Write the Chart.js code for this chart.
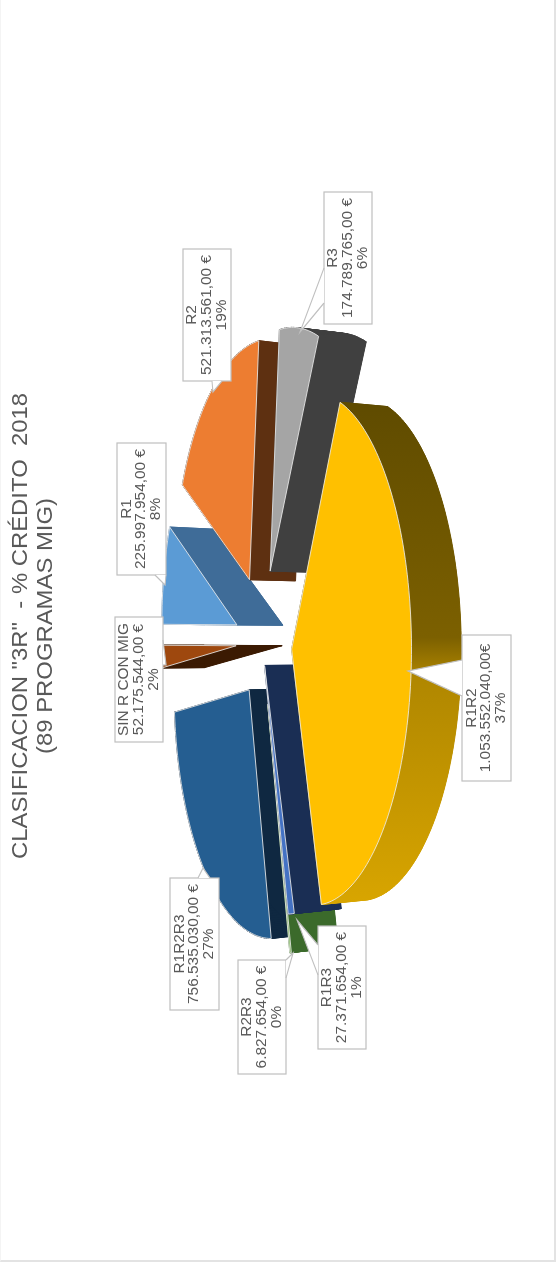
<!DOCTYPE html>
<html>
<head>
<meta charset="utf-8">
<style>
  html, body { margin: 0; padding: 0; background: #fff; overflow: hidden; }
  #frame { position: absolute; left: 0; top: 0; width: 553px; height: 1260px; border-left: 1px solid #f4f4f4; border-right: 2px solid #e3e3e3; border-bottom: 2px solid #e3e3e3; box-sizing: content-box; }
  /* the whole chart sits on its side in the reference */
  #chart { position: absolute; left: 0; top: 0; transform-origin: 0 0; transform: translateY(1268px) rotate(-90deg); }
</style>
<script src="https://cdn.jsdelivr.net/npm/chart.js@4/dist/chart.umd.min.js"></script>
</head>
<body>
<div id="frame"></div>
<canvas id="chart" width="1268" height="557"></canvas>
<script>
// Chart data
const categories = ['SIN R CON MIG', 'R1', 'R2', 'R3', 'R1R2', 'R1R3', 'R2R3', 'R1R2R3'];
const credits = [52175544, 225997954, 521313561, 174789765, 1053552040, 27371654, 6827654, 756535030];
const creditLabels = ['52.175.544,00 €', '225.997.954,00 €', '521.313.561,00 €', '174.789.765,00 €',
  '1.053.552.040,00€', '27.371.654,00 €', '6.827.654,00 €', '756.535.030,00 €'];
const percentLabels = ['2%', '8%', '19%', '6%', '37%', '1%', '0%', '27%'];
const titleLines = ['CLASIFICACION "3R"  - % CRÉDITO  2018', '(89 PROGRAMAS MIG)'];

// Slice styles
const topColors = ['#9E480E', '#5B9BD5', '#ED7D31', '#A5A5A5', '#FFC000', '#4472C4', '#70AD47', '#255E91'];
const sideColors = ['#3B1A02', '#3F6C98', '#5E3011', '#404040', null, '#1A2E54', '#3B6A2B', '#0F2841'];
const explosion = [30, 30, 30, 30, 30, 10, 26, 25]; // percent of radius, like Excel
const radiusScale = [1, 1, 0.97, 0.98, 1.03, 1, 1, 1];
const drawOrder = [0, 1, 2, 3, 7, 6, 5, 4]; // back to front

// 3D view settings
const view = { cu: 626, cv: 262, sizeU: 242, sizeV: 92.3, perspective: 0.23, depth: 46 };

// Callout boxes: left, top, width, height, then pointer tip and the two pointer base points
const callouts = [
  { box: [526, 115, 125, 48], tip: [603, 166], base: [[628, 163], [603, 163]] },
  { box: [693, 117, 132, 49], tip: [683, 165], base: [[693, 155], [693, 166]] },
  { box: [887, 183, 132, 48], tip: [876, 213], base: [[887, 212], [887, 222]] },
  { box: [944, 324, 132, 48], tip: [936, 300], base: [[1000, 324], [965, 324]] },
  { box: [487, 462, 146, 49], tip: [597, 408], base: [[608, 462], [572, 462]] },
  { box: [219, 318, 123, 48], tip: [348, 297], base: [[323, 318], [293, 318]] },
  { box: [194, 238, 114, 48], tip: [315, 293], base: [[308, 286], [290, 286]] },
  { box: [258, 170, 132, 49], tip: [400, 203], base: [[390, 198], [390, 210]] }
];

// Project a point of the flat pie (radius 1) to the tilted view
function project(x, y) {
  const w = 1 - view.perspective * y;
  return [view.sizeU * x / w, view.sizeV * y / w, w];
}

// Outline of one slice on the top face, from the arc element the library laid out
function sliceOutline(arc, scale) {
  const { startAngle, endAngle } = arc.getProps(['startAngle', 'endAngle'], true);
  const mid = (startAngle + endAngle) / 2;
  const e = arc.options.offset / 100;
  const apex = project(e * Math.cos(mid), e * Math.sin(mid));
  const tip = [view.cu + apex[0], view.cv + apex[1], 1];
  const points = [tip];
  const steps = Math.max(2, Math.ceil((endAngle - startAngle) * 40));
  for (let i = 0; i <= steps; i++) {
    const a = startAngle + (endAngle - startAngle) * i / steps;
    const p = project(Math.cos(a), Math.sin(a));
    points.push([tip[0] + p[0] * scale, tip[1] + p[1], p[2]]);
  }
  return points;
}

// t = 0 is the top face, t = 1 the bottom face, a little smaller and deeper at the front
function lower(p, t) {
  return [p[0] + (view.cu - p[0]) * 0.018 * t, p[1] + t * view.depth * Math.pow(1 / p[2], 0.3)];
}

function tracePolygon(ctx, points) {
  ctx.beginPath();
  points.forEach((p, i) => {
    if (i === 0) ctx.moveTo(p[0], p[1]); else ctx.lineTo(p[0], p[1]);
  });
  ctx.closePath();
}

function drawSlice(ctx, outline, side, top) {
  ctx.fillStyle = side;
  ctx.strokeStyle = side;
  ctx.lineWidth = 1;
  tracePolygon(ctx, outline.map((p) => lower(p, 1)));
  ctx.fill();
  outline.forEach((p, i) => {
    const next = outline[(i + 1) % outline.length];
    tracePolygon(ctx, [lower(p, 0), lower(next, 0), lower(next, 1), lower(p, 1)]);
    ctx.fill();
    ctx.stroke();
  });
  tracePolygon(ctx, outline);
  ctx.fillStyle = top;
  ctx.fill();
  ctx.strokeStyle = 'rgba(235,235,235,0.85)';
  ctx.stroke();
}

function drawCallout(ctx, callout, lines) {
  const [x, y, w, h] = callout.box;
  ctx.fillStyle = '#fff';
  ctx.strokeStyle = '#BFBFBF';
  ctx.lineWidth = 1.2;
  ctx.fillRect(x, y, w, h);
  ctx.strokeRect(x, y, w, h);
  ctx.beginPath();
  ctx.moveTo(callout.base[0][0], callout.base[0][1]);
  ctx.lineTo(callout.tip[0], callout.tip[1]);
  ctx.lineTo(callout.base[1][0], callout.base[1][1]);
  ctx.fill();
  ctx.stroke();
  ctx.fillStyle = '#595959';
  ctx.font = '14px "Liberation Sans"';
  ctx.textAlign = 'center';
  ctx.textBaseline = 'middle';
  lines.forEach((line, i) => {
    ctx.save();
    ctx.translate(x + w / 2, y + h / 2 + (i - 1) * 14.8);
    ctx.scale(1.1, 1);
    ctx.fillText(line, 0, 0);
    ctx.restore();
  });
}

function drawTitle(ctx) {
  ctx.fillStyle = '#595959';
  ctx.font = '21.5px "Liberation Sans"';
  ctx.textAlign = 'center';
  ctx.textBaseline = 'middle';
  titleLines.forEach((line, i) => {
    ctx.save();
    ctx.translate(642, 21 + i * 25);
    ctx.scale(1.11, 1);
    ctx.fillText(line, 0, 0);
    ctx.restore();
  });
}

// Paints the pie in 3D instead of the flat doughnut, labels go on top
const pie3d = {
  id: 'pie3d',
  beforeDatasetsDraw(chart) {
    const ctx = chart.ctx;
    const arcs = chart.getDatasetMeta(0).data;
    ctx.save();
    drawTitle(ctx);
    drawOrder.forEach((index) => {
      let side = sideColors[index];
      if (!side) {
        side = ctx.createLinearGradient(866, 0, 365, 0);
        side.addColorStop(0, '#5F4B00');
        side.addColorStop(0.47, '#7C6000');
        side.addColorStop(0.55, '#B08700');
        side.addColorStop(1, '#D8A500');
      }
      drawSlice(ctx, sliceOutline(arcs[index], radiusScale[index]), side, topColors[index]);
    });
    callouts.forEach((callout, i) => {
      drawCallout(ctx, callout, [categories[i], creditLabels[i], percentLabels[i]]);
    });
    ctx.restore();
    return false;
  }
};

new Chart(document.getElementById('chart'), {
  type: 'pie',
  data: {
    labels: categories,
    datasets: [{
      data: credits,
      backgroundColor: topColors,
      borderWidth: 0,
      offset: explosion
    }]
  },
  options: {
    responsive: false,
    animation: false,
    rotation: -6.5,
    plugins: {
      legend: { display: false },
      tooltip: { enabled: false }
    }
  },
  plugins: [pie3d]
});
</script>
</body>
</html>
